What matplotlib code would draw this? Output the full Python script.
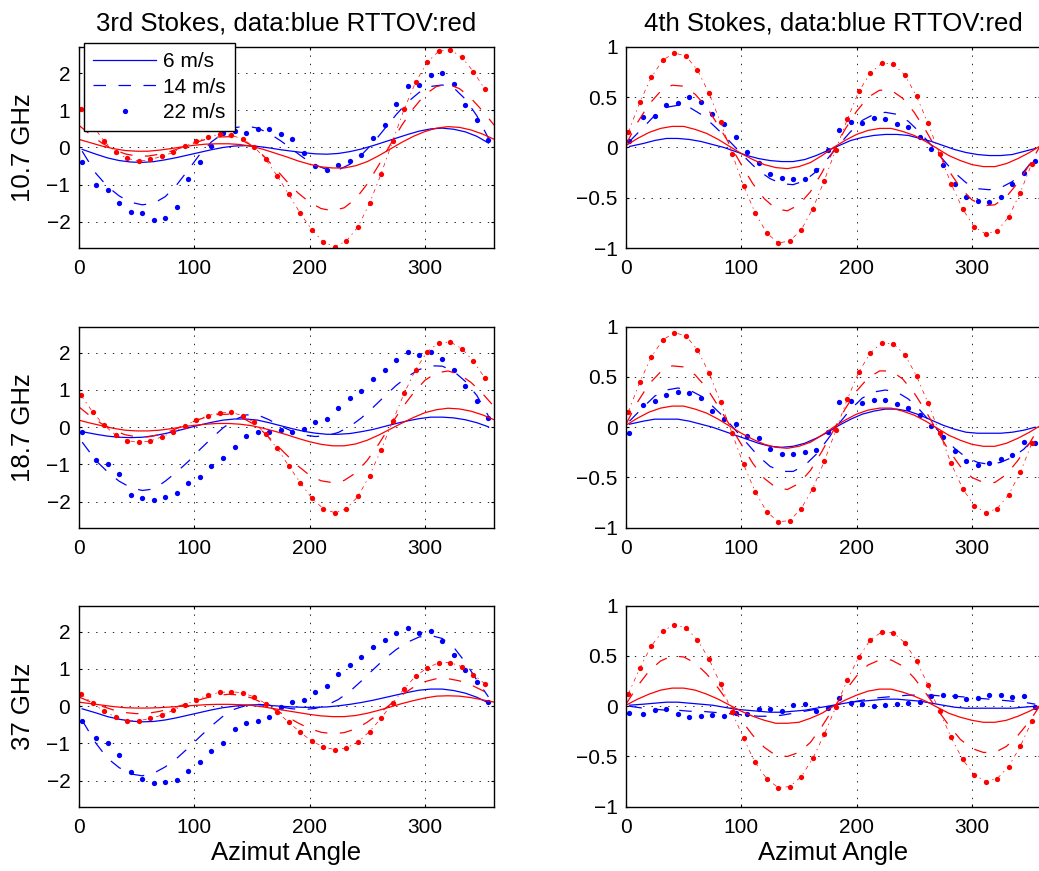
import numpy as np
import matplotlib
matplotlib.use("Agg")
import matplotlib.pyplot as plt

plt.rcParams['font.family'] = ['Liberation Sans', 'DejaVu Sans']
plt.rcParams['lines.scale_dashes'] = False

# azimuth grids
az_data = np.array([3] + list(range(15, 360, 10)))      # measured data (blue)
az_dots = np.arange(2, 360, 10)                          # RTTOV 22 m/s points
az_model = np.arange(0, 361, 10)                         # RTTOV curves

titles = ["3rd Stokes, data:blue RTTOV:red", "4th Stokes, data:blue RTTOV:red"]
freqs = ["10.7 GHz", "18.7 GHz", "37 GHz"]
speeds = ["6 m/s", "14 m/s", "22 m/s"]

# ---- 10.7 GHz, 3rd Stokes
u10_b6 = [-0.05, -0.18, -0.28, -0.35, -0.39, -0.40, -0.38, -0.33, -0.27, -0.20, -0.13, -0.06, 0.00, 0.04, 0.05, 0.03, -0.01, -0.06,
          -0.10, -0.14, -0.17, -0.18, -0.16, -0.11, -0.04, 0.05, 0.15, 0.25, 0.35, 0.44, 0.50, 0.52, 0.49, 0.42, 0.30, 0.12]
u10_b14 = [-0.10, -0.70, -1.05, -1.30, -1.47, -1.54, -1.50, -1.32, -1.00, -0.60, -0.18, 0.15, 0.38, 0.53, 0.58, 0.52, 0.38, 0.18,
           -0.05, -0.28, -0.47, -0.59, -0.60, -0.45, -0.20, 0.12, 0.50, 0.88, 1.22, 1.48, 1.64, 1.68, 1.60, 1.30, 0.85, 0.25]
u10_b22 = [-0.40, -1.01, -1.14, -1.50, -1.74, -1.77, -1.95, -1.90, -1.61, -0.84, -0.40, 0.04, 0.39, 0.45, 0.40, 0.49, 0.51, 0.36,
           0.24, -0.14, -0.50, -0.61, -0.47, -0.35, -0.21, 0.26, 0.60, 1.18, 1.66, 1.69, 1.96, 2.00, 1.70, 1.15, 0.75, 0.20]
u10_r6 = [0.22, 0.13, 0.04, -0.03, -0.08, -0.10, -0.10, -0.07, -0.03, 0.02, 0.06, 0.09, 0.10, 0.10, 0.08, 0.03, -0.05, -0.15, -0.25,
          -0.36, -0.45, -0.52, -0.55, -0.55, -0.49, -0.38, -0.22, -0.04, 0.14, 0.30, 0.43, 0.52, 0.56, 0.54, 0.47, 0.36, 0.22]
u10_r14 = [0.60, 0.35, 0.12, -0.05, -0.17, -0.23, -0.23, -0.18, -0.10, 0.01, 0.12, 0.22, 0.28, 0.29, 0.22, 0.05, -0.22, -0.55, -0.90,
           -1.22, -1.47, -1.64, -1.70, -1.62, -1.38, -0.98, -0.47, 0.08, 0.60, 1.05, 1.42, 1.64, 1.70, 1.58, 1.32, 0.98, 0.60]
u10_r22 = [1.04, 0.60, 0.17, -0.13, -0.29, -0.37, -0.32, -0.24, -0.13, 0.04, 0.17, 0.28, 0.35, 0.33, 0.23, 0.02, -0.32, -0.76,
           -1.26, -1.77, -2.21, -2.54, -2.66, -2.51, -2.13, -1.50, -0.71, 0.17, 1.03, 1.76, 2.29, 2.59, 2.63, 2.42, 2.04, 1.56]

# ---- 10.7 GHz, 4th Stokes
v10_b6 = [0.01, 0.04, 0.07, 0.09, 0.09, 0.08, 0.06, 0.03, 0.00, -0.04, -0.08, -0.11, -0.13, -0.14, -0.14, -0.12, -0.08, -0.03,
          0.02, 0.07, 0.10, 0.12, 0.13, 0.13, 0.12, 0.09, 0.06, 0.02, -0.02, -0.05, -0.07, -0.08, -0.08, -0.07, -0.04, -0.01]
v10_b14 = [0.06, 0.20, 0.32, 0.40, 0.42, 0.40, 0.33, 0.23, 0.12, 0.00, -0.12, -0.23, -0.31, -0.36, -0.37, -0.33, -0.24, -0.11,
           0.03, 0.16, 0.27, 0.33, 0.35, 0.33, 0.26, 0.15, 0.02, -0.12, -0.25, -0.35, -0.41, -0.42, -0.40, -0.34, -0.24, -0.10]
v10_b22 = [0.06, 0.30, 0.31, 0.42, 0.44, 0.50, 0.45, 0.33, 0.23, 0.10, -0.04, -0.15, -0.26, -0.30, -0.31, -0.31, -0.22, -0.02,
           0.17, 0.25, 0.24, 0.29, 0.28, 0.23, 0.20, 0.10, -0.01, -0.17, -0.36, -0.49, -0.53, -0.54, -0.49, -0.36, -0.25, -0.13]
v10_r6 = [0.02, 0.09, 0.15, 0.19, 0.21, 0.21, 0.18, 0.14, 0.08, 0.01, -0.06, -0.12, -0.17, -0.20, -0.21, -0.19, -0.15, -0.08, 0.00,
          0.07, 0.13, 0.17, 0.19, 0.19, 0.16, 0.12, 0.06, -0.01, -0.08, -0.13, -0.17, -0.19, -0.19, -0.16, -0.11, -0.05, 0.02]
v10_r14 = [0.03, 0.25, 0.43, 0.56, 0.62, 0.61, 0.53, 0.40, 0.22, 0.03, -0.17, -0.36, -0.51, -0.61, -0.63, -0.57, -0.44, -0.25, -0.03,
           0.18, 0.36, 0.50, 0.57, 0.57, 0.49, 0.35, 0.17, -0.03, -0.23, -0.40, -0.52, -0.58, -0.57, -0.49, -0.35, -0.17, 0.03]
v10_r22 = [0.15, 0.45, 0.70, 0.87, 0.94, 0.91, 0.77, 0.54, 0.25, -0.06, -0.38, -0.65, -0.85, -0.95, -0.93, -0.82, -0.61, -0.33,
           -0.02, 0.28, 0.56, 0.74, 0.84, 0.83, 0.72, 0.51, 0.24, -0.06, -0.36, -0.61, -0.79, -0.86, -0.83, -0.69, -0.45, -0.16]

# ---- 18.7 GHz, 3rd Stokes
u18_b6 = [-0.12, -0.19, -0.24, -0.27, -0.28, -0.27, -0.23, -0.17, -0.10, -0.02, 0.06, 0.13, 0.19, 0.22, 0.22, 0.19, 0.12, 0.04,
          -0.04, -0.11, -0.16, -0.19, -0.19, -0.17, -0.12, -0.06, 0.02, 0.10, 0.17, 0.23, 0.27, 0.27, 0.25, 0.20, 0.12, 0.01]
u18_b14 = [-0.40, -0.90, -1.20, -1.45, -1.62, -1.70, -1.66, -1.45, -1.20, -0.92, -0.60, -0.30, -0.02, 0.20, 0.33, 0.33, 0.20, 0.03,
           -0.11, -0.21, -0.25, -0.23, -0.14, 0.02, 0.25, 0.53, 0.83, 1.12, 1.36, 1.55, 1.65, 1.64, 1.50, 1.23, 0.85, 0.30]
u18_b22 = [-0.13, -0.89, -0.98, -1.25, -1.83, -1.90, -1.95, -1.88, -1.76, -1.50, -1.34, -1.05, -0.82, -0.52, -0.23, -0.13, -0.12, -0.08,
           -0.13, -0.06, 0.14, 0.21, 0.51, 0.79, 0.96, 1.29, 1.55, 1.80, 2.01, 1.95, 2.03, 1.83, 1.53, 1.11, 0.71, 0.26]
u18_r6 = [0.19, 0.11, 0.04, -0.03, -0.08, -0.10, -0.10, -0.08, -0.04, 0.01, 0.05, 0.08, 0.10, 0.10, 0.08, 0.04, -0.03, -0.11, -0.20,
          -0.30, -0.39, -0.46, -0.50, -0.50, -0.45, -0.35, -0.21, -0.05, 0.11, 0.26, 0.39, 0.47, 0.51, 0.49, 0.43, 0.33, 0.20]
u18_r14 = [0.55, 0.30, 0.09, -0.08, -0.20, -0.26, -0.26, -0.20, -0.10, 0.03, 0.16, 0.27, 0.34, 0.35, 0.28, 0.11, -0.13, -0.43, -0.74,
           -1.04, -1.29, -1.44, -1.49, -1.43, -1.23, -0.89, -0.45, 0.04, 0.51, 0.92, 1.26, 1.46, 1.51, 1.42, 1.20, 0.90, 0.55]
u18_r22 = [0.86, 0.41, 0.05, -0.21, -0.36, -0.41, -0.37, -0.26, -0.13, 0.03, 0.20, 0.31, 0.39, 0.40, 0.31, 0.13, -0.19, -0.57,
           -1.04, -1.49, -1.91, -2.19, -2.30, -2.19, -1.86, -1.30, -0.61, 0.16, 0.91, 1.55, 2.03, 2.27, 2.29, 2.11, 1.77, 1.32]

# ---- 18.7 GHz, 4th Stokes
v18_b6 = [0.03, 0.06, 0.08, 0.08, 0.08, 0.06, 0.03, 0.00, -0.04, -0.08, -0.12, -0.16, -0.19, -0.20, -0.19, -0.16, -0.11, -0.05,
          0.02, 0.08, 0.13, 0.16, 0.18, 0.18, 0.16, 0.12, 0.07, 0.02, -0.02, -0.05, -0.06, -0.06, -0.06, -0.05, -0.03, 0.00]
v18_b14 = [0.06, 0.20, 0.31, 0.37, 0.39, 0.37, 0.31, 0.21, 0.10, -0.03, -0.16, -0.29, -0.39, -0.44, -0.44, -0.38, -0.27, -0.12,
           0.04, 0.18, 0.29, 0.35, 0.37, 0.35, 0.28, 0.17, 0.04, -0.09, -0.21, -0.30, -0.35, -0.37, -0.35, -0.30, -0.22, -0.10]
v18_b22 = [-0.06, 0.22, 0.26, 0.32, 0.35, 0.34, 0.29, 0.16, 0.08, 0.03, -0.09, -0.11, -0.22, -0.27, -0.27, -0.25, -0.23, -0.05,
           0.25, 0.26, 0.24, 0.27, 0.27, 0.23, 0.19, 0.12, 0.01, -0.10, -0.24, -0.34, -0.38, -0.36, -0.32, -0.28, -0.15, -0.16]
v18_r6 = [0.02, 0.09, 0.15, 0.19, 0.21, 0.21, 0.18, 0.14, 0.08, 0.01, -0.06, -0.12, -0.17, -0.20, -0.21, -0.19, -0.15, -0.08, 0.00,
          0.07, 0.13, 0.17, 0.19, 0.19, 0.16, 0.12, 0.06, -0.01, -0.08, -0.13, -0.17, -0.19, -0.19, -0.16, -0.11, -0.05, 0.02]
v18_r14 = [0.03, 0.25, 0.43, 0.55, 0.61, 0.60, 0.52, 0.39, 0.21, 0.02, -0.17, -0.36, -0.51, -0.60, -0.62, -0.56, -0.43, -0.24, -0.03,
           0.18, 0.36, 0.49, 0.56, 0.56, 0.48, 0.34, 0.16, -0.04, -0.23, -0.39, -0.50, -0.55, -0.55, -0.47, -0.33, -0.16, 0.03]
v18_r22 = [0.15, 0.45, 0.70, 0.87, 0.94, 0.91, 0.77, 0.54, 0.25, -0.06, -0.37, -0.64, -0.84, -0.94, -0.93, -0.81, -0.61, -0.34,
           -0.03, 0.28, 0.55, 0.74, 0.84, 0.83, 0.72, 0.51, 0.24, -0.06, -0.36, -0.61, -0.78, -0.85, -0.81, -0.67, -0.45, -0.16]

# ---- 37 GHz, 3rd Stokes
u37_b6 = [-0.07, -0.18, -0.28, -0.35, -0.40, -0.42, -0.41, -0.37, -0.31, -0.24, -0.17, -0.10, -0.04, 0.00, 0.03, 0.04, 0.02, 0.00,
          -0.02, -0.03, -0.03, -0.02, 0.01, 0.05, 0.10, 0.16, 0.23, 0.30, 0.37, 0.43, 0.46, 0.46, 0.42, 0.35, 0.24, 0.09]
u37_b14 = [-0.38, -1.00, -1.40, -1.65, -1.82, -1.87, -1.80, -1.63, -1.40, -1.12, -0.82, -0.53, -0.27, -0.08, 0.02, 0.05, 0.03, -0.02,
           -0.07, -0.09, -0.06, 0.03, 0.18, 0.40, 0.68, 0.98, 1.27, 1.52, 1.72, 1.86, 1.90, 1.82, 1.58, 1.18, 0.70, 0.25]
u37_b22 = [-0.39, -0.85, -0.98, -1.31, -1.78, -1.96, -2.05, -2.04, -1.99, -1.73, -1.51, -1.21, -1.00, -0.62, -0.44, -0.39, -0.30, -0.02,
           0.10, 0.16, 0.39, 0.55, 0.87, 1.10, 1.32, 1.60, 1.77, 1.96, 2.09, 1.98, 2.01, 1.74, 1.37, 0.96, 0.66, 0.10]
u37_r6 = [0.11, 0.07, 0.03, -0.01, -0.04, -0.05, -0.05, -0.04, -0.02, 0.00, 0.02, 0.04, 0.05, 0.05, 0.04, 0.02, -0.02, -0.07, -0.12,
          -0.17, -0.22, -0.26, -0.28, -0.28, -0.25, -0.19, -0.11, -0.02, 0.07, 0.15, 0.22, 0.27, 0.28, 0.27, 0.23, 0.17, 0.11]
u37_r14 = [0.25, 0.12, 0.00, -0.10, -0.17, -0.20, -0.19, -0.14, -0.06, 0.03, 0.13, 0.22, 0.29, 0.32, 0.30, 0.22, 0.08, -0.09, -0.27,
           -0.45, -0.60, -0.70, -0.74, -0.71, -0.61, -0.43, -0.20, 0.05, 0.30, 0.51, 0.66, 0.74, 0.74, 0.68, 0.57, 0.42, 0.25]
u37_r22 = [0.33, 0.08, -0.14, -0.29, -0.39, -0.39, -0.33, -0.24, -0.11, 0.04, 0.18, 0.30, 0.37, 0.39, 0.36, 0.25, 0.07, -0.16,
           -0.43, -0.70, -0.94, -1.09, -1.17, -1.12, -0.96, -0.68, -0.32, 0.08, 0.47, 0.81, 1.03, 1.17, 1.17, 1.06, 0.85, 0.60]

# ---- 37 GHz, 4th Stokes
v37_b6 = [0.01, 0.02, 0.03, 0.04, 0.04, 0.03, 0.02, 0.01, -0.01, -0.03, -0.04, -0.05, -0.06, -0.06, -0.05, -0.04, -0.02, 0.00,
          0.02, 0.04, 0.05, 0.06, 0.07, 0.07, 0.06, 0.05, 0.03, 0.01, -0.01, -0.02, -0.02, -0.02, -0.02, -0.02, -0.01, 0.00]
v37_b14 = [0.00, -0.02, -0.03, -0.04, -0.04, -0.05, -0.05, -0.06, -0.07, -0.08, -0.09, -0.10, -0.10, -0.09, -0.07, -0.05, -0.03, -0.01,
           0.02, 0.04, 0.06, 0.08, 0.09, 0.10, 0.11, 0.11, 0.11, 0.10, 0.10, 0.09, 0.08, 0.07, 0.06, 0.05, 0.04, 0.02]
v37_b22 = [-0.07, -0.08, -0.04, -0.03, -0.08, -0.11, -0.10, -0.09, -0.10, -0.07, -0.08, -0.03, -0.03, -0.05, 0.01, 0.02, -0.05, -0.02,
           0.08, 0.03, 0.02, 0.00, 0.01, 0.02, 0.03, 0.04, 0.10, 0.11, 0.10, 0.07, 0.08, 0.11, 0.11, 0.09, 0.10, -0.01]
v37_r6 = [0.01, 0.07, 0.12, 0.16, 0.18, 0.18, 0.16, 0.12, 0.07, 0.01, -0.05, -0.10, -0.14, -0.17, -0.17, -0.16, -0.12, -0.07, 0.00,
          0.06, 0.11, 0.15, 0.17, 0.17, 0.14, 0.10, 0.05, -0.01, -0.07, -0.11, -0.14, -0.16, -0.16, -0.14, -0.10, -0.05, 0.01]
v37_r14 = [0.02, 0.20, 0.35, 0.45, 0.50, 0.49, 0.43, 0.32, 0.18, 0.02, -0.14, -0.29, -0.41, -0.49, -0.50, -0.46, -0.36, -0.20, -0.02,
           0.15, 0.30, 0.41, 0.46, 0.46, 0.40, 0.28, 0.13, -0.03, -0.19, -0.33, -0.42, -0.46, -0.46, -0.40, -0.29, -0.15, 0.02]
v37_r22 = [0.12, 0.38, 0.60, 0.75, 0.81, 0.78, 0.66, 0.47, 0.22, -0.06, -0.32, -0.56, -0.72, -0.81, -0.80, -0.70, -0.52, -0.28,
           -0.01, 0.26, 0.49, 0.66, 0.74, 0.73, 0.63, 0.45, 0.21, -0.05, -0.31, -0.53, -0.68, -0.75, -0.72, -0.60, -0.40, -0.15]

panels = [
    [(u10_b6, u10_b14, u10_b22, u10_r6, u10_r14, u10_r22), (v10_b6, v10_b14, v10_b22, v10_r6, v10_r14, v10_r22)],
    [(u18_b6, u18_b14, u18_b22, u18_r6, u18_r14, u18_r22), (v18_b6, v18_b14, v18_b22, v18_r6, v18_r14, v18_r22)],
    [(u37_b6, u37_b14, u37_b22, u37_r6, u37_r14, u37_r22), (v37_b6, v37_b14, v37_b22, v37_r6, v37_r14, v37_r22)],
]

W, H = 1039, 871
fig = plt.figure(figsize=(W / 100, H / 100), dpi=100)

col_left = [78.7, 626]
col_width = [415.5, 415]
row_top = [47, 326.7, 605.7]
row_h = 201

dash = (0, (9, 9))
dashdot = (0, (3, 3, 1, 3))
lw = 0.9

for r in range(3):
    for c in range(2):
        ax = fig.add_axes([col_left[c] / W, (H - row_top[r] - row_h) / H, col_width[c] / W, row_h / H])
        b6, b14, b22, r6, r14, r22 = panels[r][c]
        ax.plot(az_data, b6, color='b', lw=lw, label=speeds[0])
        ax.plot(az_data, b14, color='b', lw=lw, ls=dash, label=speeds[1])
        ax.plot(az_data, b22, color='b', ls='none', marker='o', ms=3.8, mew=0, label=speeds[2])
        ax.plot(az_model, r6, color='r', lw=lw)
        ax.plot(az_model, r14, color='r', lw=lw, ls=dash)
        ax.plot(az_dots, r22, color='r', lw=0.5, ls=dashdot, marker='o', ms=3.8, mew=0)

        ax.set_xlim(0, 360)
        ax.set_xticks([0, 100, 200, 300])
        if c == 0:
            ax.set_ylim(-2.7, 2.7)
            ax.set_yticks([-2, -1, 0, 1, 2])
            ax.set_ylabel(freqs[r], fontsize=18.5, labelpad=8)
        else:
            ax.set_ylim(-1, 1)
            ax.set_yticks([-1, -0.5, 0, 0.5, 1])
            ax.set_yticklabels(["\u22121", "\u22120.5", "0", "0.5", "1"])
        ax.grid(True, color='k', ls=(0, (1, 5)), lw=0.6)
        ax.tick_params(direction='in', top=True, right=True, length=2.5, width=0.8,
                       labelsize=15)
        ax.tick_params(axis='x', pad=8)
        ax.tick_params(axis='y', pad=6)
        for s in ax.spines.values():
            s.set_linewidth(1.0)
        if r == 0:
            ax.set_title(titles[c], fontsize=18.5, pad=12)
        if r == 2:
            ax.set_xlabel("Azimut Angle", fontsize=18.5, labelpad=3)
        if r == 0 and c == 0:
            leg = ax.legend(loc='upper left', bbox_to_anchor=(0.013, 1.02), borderaxespad=0,
                            fontsize=15, fancybox=False, framealpha=1, edgecolor='k',
                            handlelength=3.0, handletextpad=0.35, labelspacing=0.3,
                            borderpad=0.45, numpoints=1)
            leg.get_frame().set_linewidth(1.0)

fig.savefig("out.png", dpi=100)
